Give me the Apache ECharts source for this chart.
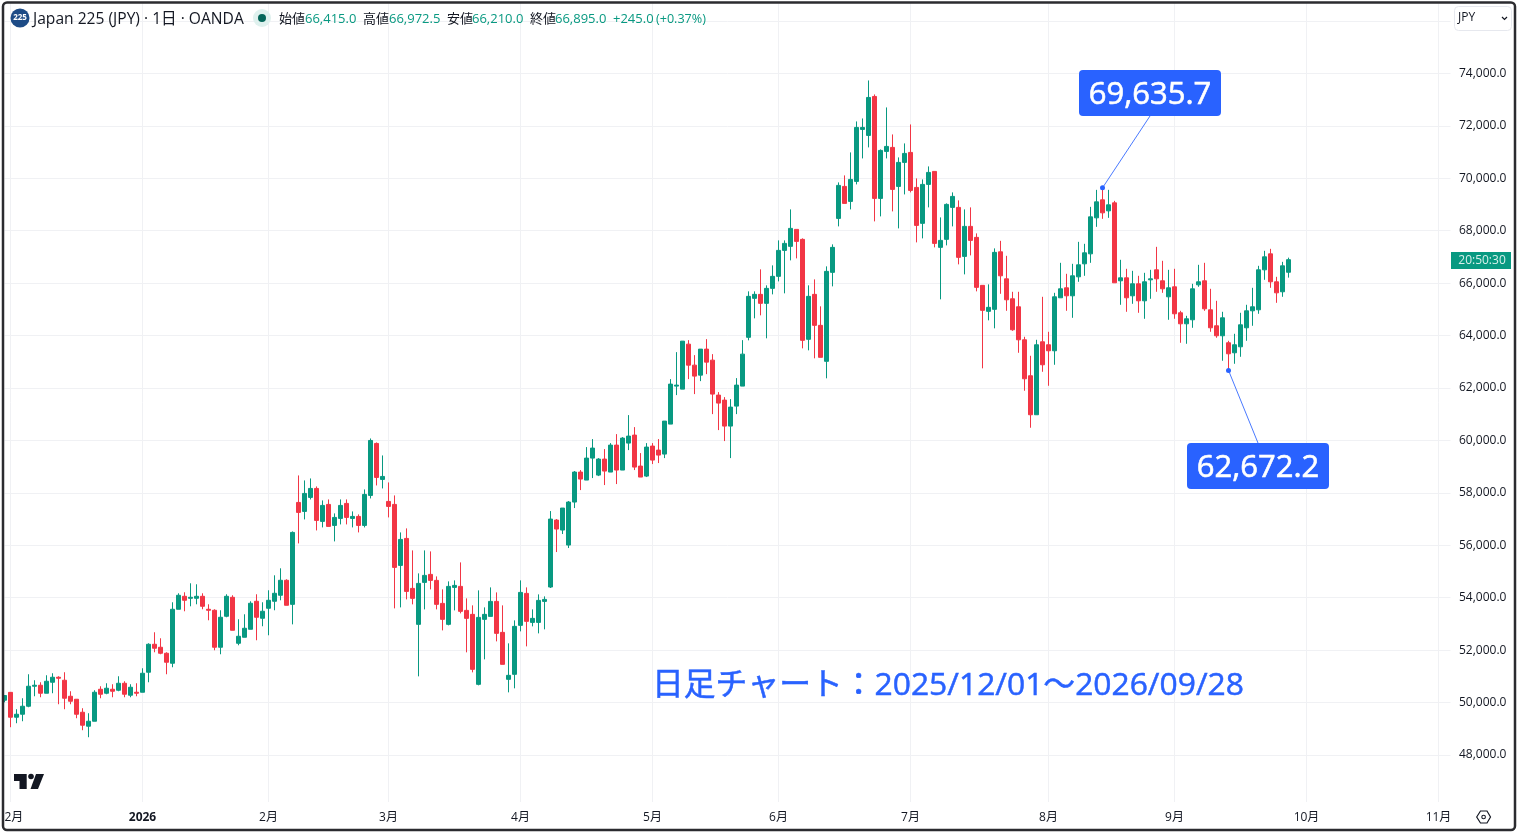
<!DOCTYPE html>
<html><head><meta charset="utf-8"><title>Japan 225</title>
<style>html,body{margin:0;padding:0;background:#fff}#c{width:1518px;height:832px}</style>
<script src="https://cdn.jsdelivr.net/npm/echarts@6/dist/echarts.min.js"></script></head>
<body><div id="c"></div>
<script>
// Daily candles, oldest first (2025/11/28 .. 2026/09/28)
const opens=[50090,50390,49441,49555,49860,50623,50661,50356,50775,50966,
50852,50241,50127,49631,49098,49288,50508,50356,50508,50470,
50737,50280,50394,50394,51157,52224,52110,51881,51500,53559,
54054,53978,53978,54054,53559,53521,52110,53292,54016,52262,
52491,52796,53864,53216,53597,53864,54093,54665,53746,57635,
57292,57826,58169,56911,57559,56758,57025,57597,57025,57101,
56758,57902,59885,58512,57673,57559,55233,56262,54356,52983,
54585,54890,54661,53784,52983,54394,54432,53517,53365,50695,
53174,53288,53860,52678,50886,51077,52945,54165,53059,53059,
53860,54408,56962,56581,56009,57649,58793,58488,59326,58678,
59288,58793,59822,58869,59898,60203,59021,58640,59784,59631,
59479,60623,62072,61957,63673,62872,62491,63483,63063,61729,
61538,60547,61309,62072,63933,65420,65572,65229,65801,66259,
67250,67403,68051,67670,63857,65572,64390,63018,66411,68470,
69690,69118,69881,71864,71635,73122,69233,71025,71178,69690,
70606,70987,69652,68280,69767,70262,67365,67670,68890,68890,
67021,68165,67746,65916,64924,65000,67195,66165,65403,65098,
63839,62467,60980,63763,63649,63420,65441,65822,65517,66241,
66737,67118,68491,69178,68758,69063,66089,66203,65517,65975,
65326,66127,66508,66089,65479,65860,64869,64449,64602,65936,
66089,64983,64373,63992,63725,63344,63572,64297,64945,64983,
66508,67118,66051,65670,66415];
const closes=[50270,49441,49555,49860,50623,50661,50356,50813,50966,50928,
50165,50051,49555,49136,49288,50394,50318,50547,50432,50737,
50318,50585,50356,51118,52224,52072,51881,51538,53559,54093,
53902,54016,54054,53673,53521,52110,53254,54054,52758,52529,
52834,53788,53254,53483,53902,54169,54665,53711,56491,57254,
57978,58169,56949,57521,56720,57063,57521,57063,57101,56758,
57940,59999,58588,58626,57483,55157,56224,54241,53975,54547,
54852,54661,53746,53174,54432,54470,53479,53212,51267,53250,
53365,53860,52640,51458,51039,52907,54203,53098,53212,53898,
53936,57000,56619,57420,57649,58793,58526,59326,59708,59288,
58831,59822,58869,60089,60165,58983,58602,59746,59250,59441,
60737,62148,62110,63788,62872,62453,63483,62987,61767,61424,
60547,61271,62110,63292,65496,65572,65229,65801,66259,67250,
67517,68089,67593,63818,65496,64390,63170,66449,67365,69729,
69042,69957,71940,71940,73084,69233,71063,71216,69576,70606,
70949,69538,68203,69767,70224,67517,67631,69004,69309,66983,
68165,67631,65839,64962,65077,67174,66280,65365,64221,63839,
62352,60980,63649,62886,63420,65479,65784,65517,66280,66699,
67157,68529,69101,68682,68987,66013,66203,65441,65975,65326,
66051,66165,66165,65784,65822,64831,64449,64640,65784,66051,
65021,64297,63992,64678,63305,63649,64411,64945,65098,66508,
67004,66051,65631,66661,66895];
const highs=[50280,50400,49746,50165,51080,50852,50775,51042,51118,51004,
51157,50432,50127,49784,49593,50470,50623,50737,50699,51004,
50813,50699,50737,51309,52262,52682,52453,51919,53826,54169,
54207,54550,54512,54169,53749,53559,53521,54131,54093,53178,
53368,53864,54131,53826,54283,54855,55122,54703,56529,58665,
58474,58550,58245,57711,57749,57216,57749,57749,57292,57178,
58131,60075,59923,59427,58398,57902,56491,56644,55805,54928,
55805,55767,54813,54318,54623,54661,55347,53975,53708,54280,
53631,54394,54203,53708,52259,53136,54661,54394,53555,54127,
54051,57305,57000,57420,57687,58831,58869,59746,60051,59326,
59670,59898,60241,60127,60966,60508,59517,59898,59898,60051,
60737,62339,63368,63788,63826,63254,63483,63864,63292,61843,
61652,61576,62377,63826,65687,65687,66526,65916,66678,67631,
67631,68813,68051,67708,65916,66144,65115,66640,67479,69843,
70110,70987,72169,72283,73732,73198,71101,72703,71673,70796,
71330,72054,69995,69957,70453,70262,68508,69042,69462,69157,
68813,68890,67898,65916,65954,67326,67614,67042,65670,65670,
63954,63229,63839,65479,64144,65631,66775,66356,66737,67576,
67500,68911,69559,69635.7,69559,69139,66890,66547,66470,66280,
66394,66508,67385,66852,66508,66547,64945,64754,65975,66699,
66775,65784,65326,64907,63801,64068,64869,65174,65822,66661,
67233,67309,66241,66813,66972.5];
const lows=[50010,49060,49212,49288,49822,50241,50203,50356,50356,49936,
49746,49936,49403,48945,48678,49288,50165,50318,50203,50432,
50203,50203,50241,50394,50775,51919,51843,51080,51347,53559,
53483,53673,53749,53559,53139,51995,51843,53254,52758,52186,
52491,52796,52377,52911,52567,53521,53902,53711,52983,56072,
56987,57749,56567,56682,56720,56148,56796,56796,56682,56491,
56682,57787,58283,58169,57063,53593,53631,53936,53746,51000,
53555,54318,53555,52754,52945,53517,53403,51916,51153,50657,
51649,53288,52335,51458,50390,50543,52716,52144,52907,52640,
52793,54370,55742,56429,55895,57420,58106,58488,58564,58640,
58297,58793,58335,58869,59631,58869,58602,58602,59098,59136,
59326,60623,61729,61957,62339,61767,62262,62529,61004,60394,
59975,59326,61004,62072,63818,64657,64772,63895,65572,66068,
65611,66869,66945,63513,63437,63132,63170,62369,65877,68165,
69042,68813,69767,70758,71178,68356,68547,70758,68737,68089,
69385,69462,67555,67708,68890,67365,65382,67441,68165,66716,
66335,67059,65687,62751,64581,64276,65593,64945,64182,63344,
61895,60484,60980,62619,62085,62886,65441,64945,64678,66051,
66280,66775,68148,68453,68491,66013,65174,64907,65212,64869,
64640,65403,65670,65631,64602,64640,63725,63687,64297,65860,
64945,64144,63916,63039,62672.2,62924,63191,63801,64373,64831,
66127,65822,65250,65479,66210];

const barSlots=242;                      // candles plus empty space on the right
const monthLabels={1:'12月',23:'2026',44:'2月',64:'3月',86:'4月',108:'5月',129:'6月',151:'7月',174:'8月',195:'9月',217:'10月',239:'11月'};
const peak={index:183,value:69635.7,text:'69,635.7'};
const trough={index:204,value:62672.2,text:'62,672.2'};
const caption='日足チャート：2025/12/01～2026/09/28';
const header={name:'Japan 225 (JPY)',tf:'1日',src:'OANDA',open:'66,415.0',high:'66,972.5',low:'66,210.0',close:'66,895.0',chg:'+245.0',pct:'(+0.37%)'};

const UP='#089981',DOWN='#F23645',BLUE='#2962FF',INK='#131722',GRID='#f0f1f4';
const FONT='"Open Sans","Noto Sans CJK JP",sans-serif';
const candleData=opens.map((o,i)=>[o,closes[i],lows[i],highs[i]]);
const categories=Array.from({length:barSlots},(_,i)=>monthLabels[i]||'');

function txt(x,y,text,size,fill,extra){return Object.assign({type:'text',x,y,z:50,silent:true,
  style:{text,fill,font:size+'px '+FONT,verticalAlign:'middle',align:'left'}},extra||{});}
function callout(x,y,w,h,text){return [
  {type:'rect',z:40,silent:true,shape:{x,y,width:w,height:h,r:4},style:{fill:BLUE}},
  txt(x+w/2,y+h/2+2,text,31,'#fff',{style:{text,fill:'#fff',stroke:'#fff',lineWidth:.6,font:'31px '+FONT,verticalAlign:'middle',align:'center'}})
];}

const graphics=[
  // frame
  {type:'rect',z:30,silent:true,shape:{x:0,y:0,width:2,height:832},style:{fill:'#fff'}},
  {type:'rect',z:31,silent:true,shape:{x:3,y:2.5,width:1512,height:827.5,r:4},style:{fill:'none',stroke:'#2b2b2f',lineWidth:2.5}},
  // header
  {type:'circle',z:40,silent:true,shape:{cx:20,cy:18,r:9.5},style:{fill:'#1d4b86'}},
  txt(20,18,'225',8,'#fff',{style:{text:'225',fill:'#fff',font:'bold 8px '+FONT,verticalAlign:'middle',align:'center'}}),
  txt(33,19.5,header.name+' · '+header.tf+' · '+header.src,15.6,INK),
  {type:'circle',z:40,silent:true,shape:{cx:262,cy:18,r:9},style:{fill:'#dff1ee'}},
  {type:'circle',z:41,silent:true,shape:{cx:262,cy:18,r:4},style:{fill:'#05665a'}},
  txt(279,19.5,'始値',13,INK),txt(305,19.5,header.open,13,UP),
  txt(363,19.5,'高値',13,INK),txt(389,19.5,header.high,13,UP),
  txt(447,19.5,'安値',13,INK),txt(472,19.5,header.low,13,UP),
  txt(530,19.5,'終値',13,INK),txt(555,19.5,header.close,13,UP),
  txt(613,19.5,header.chg,13,UP),txt(656,19.5,header.pct,12.6,UP),
  // currency box
  {type:'rect',z:40,silent:true,shape:{x:1454.5,y:6.5,width:57,height:24,r:4},style:{fill:'#fff',stroke:'#e6e8ee',lineWidth:1}},
  txt(1458,18,'JPY',12,INK),
  {type:'polyline',z:41,silent:true,shape:{points:[[1502,17],[1504.5,19.5],[1507,17]]},style:{fill:'none',stroke:INK,lineWidth:1.2}},
  // countdown tag
  {type:'rect',z:40,silent:true,shape:{x:1451,y:252,width:60,height:17},style:{fill:UP}},
  txt(1482,261,'20:50:30',12,'#e3f4f1',{style:{text:'20:50:30',fill:'#d8f0eb',font:'12px '+FONT,verticalAlign:'middle',align:'center'}}),
  // logo
  {type:'polygon',z:40,silent:true,shape:{points:[[14,774],[26.7,774],[26.7,789],[19.5,789],[19.5,781],[14,781]]},style:{fill:'#131722'}},
  {type:'circle',z:40,silent:true,shape:{cx:31,cy:776.5,r:2.8},style:{fill:'#131722'}},
  {type:'polygon',z:40,silent:true,shape:{points:[[36,774],[44,774],[38,789],[30.5,789]]},style:{fill:'#131722'}},
  // settings icon
  {type:'polygon',z:40,silent:true,shape:{points:[[1476.7,817],[1480.5,811],[1487,811],[1490.5,817],[1487,823],[1480.5,823]]},style:{fill:'none',stroke:INK,lineWidth:1.2}},
  {type:'circle',z:40,silent:true,shape:{cx:1483.6,cy:817,r:1.8},style:{fill:'none',stroke:INK,lineWidth:1.1}},
  // annotations
  ...callout(1079,70,142,46,peak.text),
  ...callout(1187,443,142,46,trough.text),
  txt(652,686,caption,31.8,BLUE,{style:{text:caption,fill:BLUE,stroke:BLUE,lineWidth:.5,font:'31.8px '+FONT,verticalAlign:'middle',align:'left'}})
];

const chart=echarts.init(document.getElementById('c'),null,{renderer:'canvas'});
chart.setOption({
  animation:false,
  backgroundColor:'#fff',
  textStyle:{fontFamily:FONT},
  grid:[
    {left:4.5,width:1446,top:21,height:734,outerBoundsMode:'none'},
    {left:4.5,width:1446,top:3,height:799,outerBoundsMode:'none'}
  ],
  xAxis:[
    {type:'category',gridIndex:0,boundaryGap:false,data:categories,show:false},
    {type:'category',gridIndex:1,boundaryGap:false,data:categories,position:'bottom',
      axisLine:{show:false},axisTick:{show:false},
      splitLine:{show:true,interval:i=>!!monthLabels[i],lineStyle:{color:GRID,width:1}},
      axisLabel:{interval:i=>!!monthLabels[i],margin:10,color:INK,fontSize:12,fontFamily:FONT,
        formatter:v=>v==='2026'?'{y|2026}':v,rich:{y:{fontWeight:'bold',fontSize:12,color:INK,fontFamily:FONT}}}}
  ],
  yAxis:[
    {type:'value',gridIndex:0,position:'right',min:48000,max:76000,interval:2000,
      axisLine:{show:false},axisTick:{show:false},
      splitLine:{show:true,lineStyle:{color:GRID,width:1}},
      axisLabel:{margin:8.5,color:INK,fontSize:12,fontFamily:FONT,showMaxLabel:false,
        formatter:v=>v>=76000?'':v.toLocaleString('en-US',{minimumFractionDigits:1,maximumFractionDigits:1})}},
    {type:'value',gridIndex:1,min:0,max:1,show:false,splitLine:{show:false}}
  ],
  series:[{
    type:'candlestick',xAxisIndex:0,yAxisIndex:0,barWidth:4,data:candleData,
    itemStyle:{color:UP,color0:DOWN,borderColor:UP,borderColor0:DOWN,borderWidth:1},
    markLine:{silent:true,symbol:'none',label:{show:false},animation:false,
      lineStyle:{color:BLUE,width:1,type:'solid',opacity:.85},
      data:[
        [{coord:[peak.index,peak.value]},{x:1150,y:116}],
        [{coord:[trough.index,trough.value]},{x:1258,y:443}]
      ]},
    markPoint:{silent:true,symbol:'circle',symbolSize:5,label:{show:false},animation:false,
      itemStyle:{color:BLUE},
      data:[{coord:[peak.index,peak.value]},{coord:[trough.index,trough.value]}]}
  }],
  graphic:{elements:graphics}
});
</script></body></html>
